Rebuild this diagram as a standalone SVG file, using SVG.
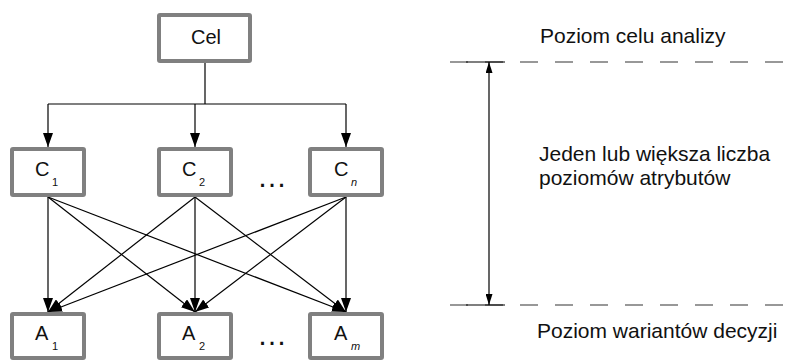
<svg xmlns="http://www.w3.org/2000/svg" width="788" height="360" viewBox="0 0 788 360">
  <style>
    .box { fill: #ffffff; stroke: #808080; stroke-width: 4; }
    .lbl { font-family: "Liberation Sans", Arial, sans-serif; font-size: 20px; fill: #111111; }
    .sub { font-family: "Liberation Sans", Arial, sans-serif; font-size: 11px; fill: #111111; }
    .note { font-family: "Liberation Sans", Arial, sans-serif; font-size: 21px; fill: #111111; }
    .dots { font-family: "Liberation Sans", Arial, sans-serif; font-size: 30px; fill: #111111; }
    .edge { stroke: #000000; stroke-width: 1.2; fill: none; }
    .level { stroke: #333333; stroke-width: 1.2; fill: none; stroke-dasharray: 18 17; }
  </style>
  <defs>
    <marker id="arrow" markerUnits="userSpaceOnUse" markerWidth="14" markerHeight="10" refX="14" refY="5" orient="auto">
      <path d="M0,0 L14,5 L0,10 Z" fill="#000000"/>
    </marker>
    <marker id="tip" markerUnits="userSpaceOnUse" markerWidth="11" markerHeight="7" refX="11" refY="3.5" orient="auto">
      <path d="M0,0 L11,3.5 L0,7 Z" fill="#000000"/>
    </marker>
  </defs>

  <rect width="788" height="360" fill="#ffffff"/>

  <!-- connectors -->
  <g id="connectors">
    <!-- goal to criteria bus -->
    <polyline class="edge" points="205,63 205,104"/>
    <line class="edge" x1="48" y1="104" x2="346" y2="104"/>
    <line class="edge" x1="48" y1="104" x2="48" y2="147" marker-end="url(#arrow)"/>
    <line class="edge" x1="195" y1="104" x2="195" y2="147" marker-end="url(#arrow)"/>
    <line class="edge" x1="346" y1="104" x2="346" y2="147" marker-end="url(#arrow)"/>
    <!-- criteria to alternatives -->
    <line class="edge" x1="48" y1="197" x2="48" y2="312" marker-end="url(#arrow)"/>
    <line class="edge" x1="48" y1="197" x2="195" y2="312" marker-end="url(#arrow)"/>
    <line class="edge" x1="48" y1="197" x2="346" y2="312" marker-end="url(#arrow)"/>
    <line class="edge" x1="195" y1="197" x2="48" y2="312" marker-end="url(#arrow)"/>
    <line class="edge" x1="195" y1="197" x2="195" y2="312" marker-end="url(#arrow)"/>
    <line class="edge" x1="195" y1="197" x2="346" y2="312" marker-end="url(#arrow)"/>
    <line class="edge" x1="346" y1="197" x2="48" y2="312" marker-end="url(#arrow)"/>
    <line class="edge" x1="346" y1="197" x2="195" y2="312" marker-end="url(#arrow)"/>
    <line class="edge" x1="346" y1="197" x2="346" y2="312" marker-end="url(#arrow)"/>
  </g>

  <!-- goal -->
  <g id="cel">
    <rect class="box" x="159" y="15" width="91" height="46" rx="1"/>
    <text class="lbl" x="206" y="44" text-anchor="middle">Cel</text>
  </g>

  <!-- criteria -->
  <g id="c1">
    <rect class="box" x="12" y="149" width="72" height="46" rx="1"/>
    <text class="lbl" x="35" y="176">C</text>
    <text class="sub" x="52" y="186">1</text>
  </g>
  <g id="c2">
    <rect class="box" x="159" y="149" width="72" height="46" rx="1"/>
    <text class="lbl" x="182" y="176">C</text>
    <text class="sub" x="199" y="186">2</text>
  </g>
  <text class="dots" x="272" y="187" text-anchor="middle">…</text>
  <g id="cn">
    <rect class="box" x="310" y="149" width="72" height="46" rx="1"/>
    <text class="lbl" x="334" y="176">C</text>
    <text class="sub" x="351" y="186" font-style="italic">n</text>
  </g>

  <!-- alternatives -->
  <g id="a1">
    <rect class="box" x="12" y="314" width="72" height="44" rx="1"/>
    <text class="lbl" x="35" y="340">A</text>
    <text class="sub" x="52" y="350">1</text>
  </g>
  <g id="a2">
    <rect class="box" x="159" y="314" width="72" height="44" rx="1"/>
    <text class="lbl" x="182" y="340">A</text>
    <text class="sub" x="199" y="350">2</text>
  </g>
  <text class="dots" x="272" y="345" text-anchor="middle">…</text>
  <g id="am">
    <rect class="box" x="310" y="314" width="72" height="44" rx="1"/>
    <text class="lbl" x="334" y="340">A</text>
    <text class="sub" x="351" y="350" font-style="italic">m</text>
  </g>

  <!-- level annotations -->
  <g id="levels">
    <line class="level" x1="450" y1="62" x2="788" y2="62"/>
    <line class="edge" x1="466" y1="62" x2="505" y2="62"/>
    <line class="level" x1="450" y1="305" x2="788" y2="305"/>
    <line class="edge" x1="466" y1="305" x2="505" y2="305"/>
    <line class="edge" x1="489" y1="184" x2="489" y2="62" marker-end="url(#tip)"/>
    <line class="edge" x1="489" y1="184" x2="489" y2="305" marker-end="url(#tip)"/>
    <text class="note" x="540" y="43">Poziom celu analizy</text>
    <text class="note" x="539" y="161">Jeden lub większa liczba<tspan x="539" dy="24">poziomów atrybutów</tspan></text>
    <text class="note" x="537" y="338">Poziom wariantów decyzji</text>
  </g>
</svg>
